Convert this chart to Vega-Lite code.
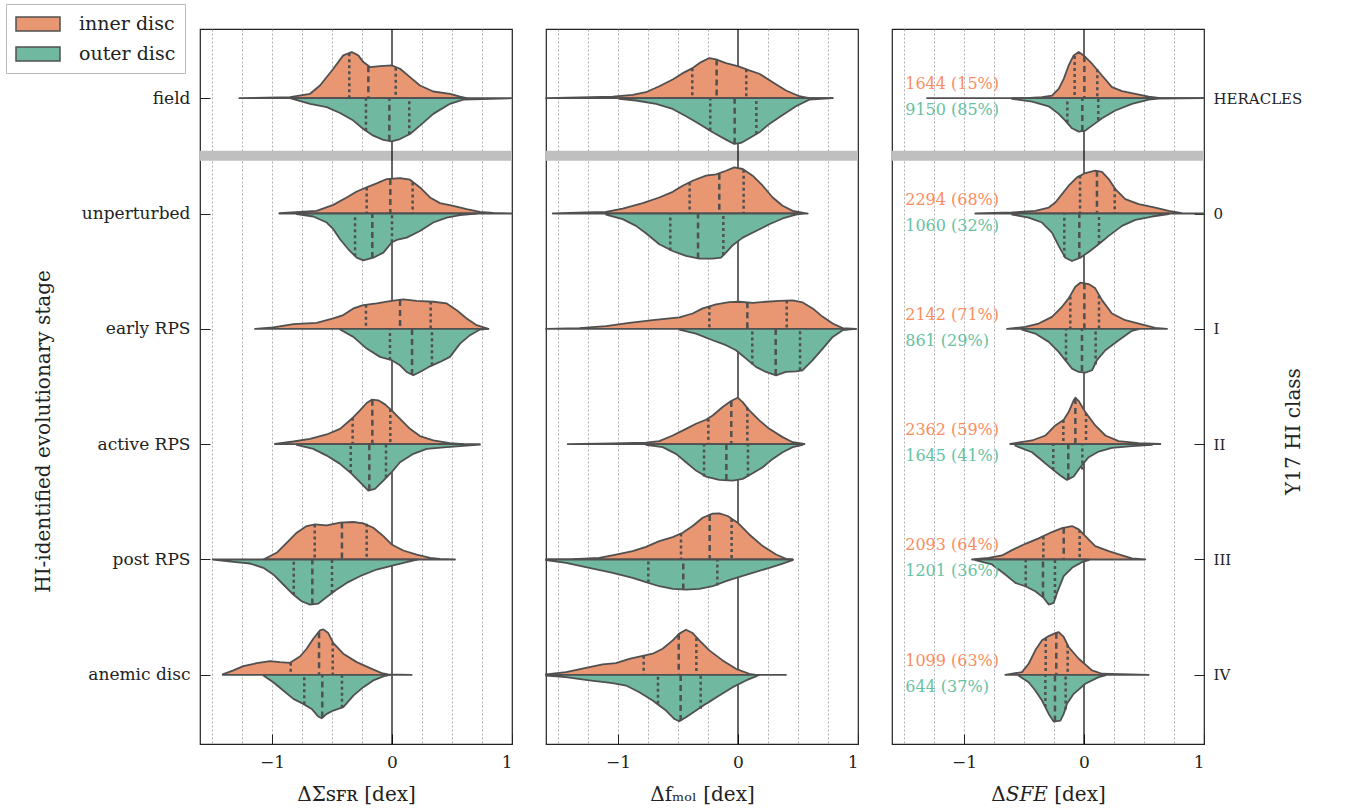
{
"$schema":"https://vega.github.io/schema/vega-lite/v6.json",
"background":"white",
"padding":{"left":5,"top":3,"right":0,"bottom":0},
"config":{"font":"DejaVu Serif","view":{"stroke":"#222","strokeWidth":1.2},
"axis":{"labelFont":"DejaVu Serif","titleFont":"DejaVu Serif","labelColor":"#222","titleColor":"#222","titleFontWeight":"normal","tickColor":"#222","tickWidth":1,"domain":false,"grid":false,"labelFontSize":17,"titleFontSize":20},
"concat":{"spacing":22}},
"datasets":{
"v":[
{"p":"a","h":"i","b":0,"x":-1.272,"y":0},{"p":"a","h":"i","b":0,"x":-0.85,"y":-0.009},{"p":"a","h":"i","b":0,"x":-0.683,"y":-0.038},{"p":"a","h":"i","b":0,"x":-0.6,"y":-0.11},{"p":"a","h":"i","b":0,"x":-0.489,"y":-0.255},{"p":"a","h":"i","b":0,"x":-0.406,"y":-0.371},{"p":"a","h":"i","b":0,"x":-0.336,"y":-0.4},{"p":"a","h":"i","b":0,"x":-0.281,"y":-0.371},{"p":"a","h":"i","b":0,"x":-0.239,"y":-0.313},{"p":"a","h":"i","b":0,"x":-0.183,"y":-0.27},{"p":"a","h":"i","b":0,"x":-0.1,"y":-0.278},{"p":"a","h":"i","b":0,"x":-0.003,"y":-0.284},{"p":"a","h":"i","b":0,"x":0.067,"y":-0.255},{"p":"a","h":"i","b":0,"x":0.15,"y":-0.183},{"p":"a","h":"i","b":0,"x":0.233,"y":-0.11},{"p":"a","h":"i","b":0,"x":0.344,"y":-0.058},{"p":"a","h":"i","b":0,"x":0.483,"y":-0.038},{"p":"a","h":"i","b":0,"x":0.567,"y":-0.014},{"p":"a","h":"i","b":0,"x":0.622,"y":0},
{"p":"a","h":"o","b":0,"x":-0.85,"y":0},{"p":"a","h":"o","b":0,"x":-0.683,"y":0.049},{"p":"a","h":"o","b":0,"x":-0.544,"y":0.078},{"p":"a","h":"o","b":0,"x":-0.433,"y":0.128},{"p":"a","h":"o","b":0,"x":-0.322,"y":0.194},{"p":"a","h":"o","b":0,"x":-0.239,"y":0.267},{"p":"a","h":"o","b":0,"x":-0.156,"y":0.325},{"p":"a","h":"o","b":0,"x":-0.072,"y":0.362},{"p":"a","h":"o","b":0,"x":-0.003,"y":0.374},{"p":"a","h":"o","b":0,"x":0.067,"y":0.354},{"p":"a","h":"o","b":0,"x":0.15,"y":0.31},{"p":"a","h":"o","b":0,"x":0.233,"y":0.238},{"p":"a","h":"o","b":0,"x":0.344,"y":0.136},{"p":"a","h":"o","b":0,"x":0.483,"y":0.049},{"p":"a","h":"o","b":0,"x":0.594,"y":0.012},{"p":"a","h":"o","b":0,"x":1.0,"y":0},
{"p":"a","h":"i","b":1,"x":-0.939,"y":0.997},{"p":"a","h":"i","b":1,"x":-0.767,"y":0.986},{"p":"a","h":"i","b":1,"x":-0.628,"y":0.977},{"p":"a","h":"i","b":1,"x":-0.489,"y":0.925},{"p":"a","h":"i","b":1,"x":-0.378,"y":0.861},{"p":"a","h":"i","b":1,"x":-0.294,"y":0.809},{"p":"a","h":"i","b":1,"x":-0.211,"y":0.774},{"p":"a","h":"i","b":1,"x":-0.128,"y":0.739},{"p":"a","h":"i","b":1,"x":-0.044,"y":0.701},{"p":"a","h":"i","b":1,"x":0.067,"y":0.693},{"p":"a","h":"i","b":1,"x":0.15,"y":0.707},{"p":"a","h":"i","b":1,"x":0.233,"y":0.774},{"p":"a","h":"i","b":1,"x":0.317,"y":0.861},{"p":"a","h":"i","b":1,"x":0.4,"y":0.91},{"p":"a","h":"i","b":1,"x":0.511,"y":0.933},{"p":"a","h":"i","b":1,"x":0.622,"y":0.962},{"p":"a","h":"i","b":1,"x":0.733,"y":0.986},{"p":"a","h":"i","b":1,"x":0.844,"y":0.994},{"p":"a","h":"i","b":1,"x":1.0,"y":1},
{"p":"a","h":"o","b":1,"x":-0.794,"y":1.006},{"p":"a","h":"o","b":1,"x":-0.656,"y":1.026},{"p":"a","h":"o","b":1,"x":-0.544,"y":1.078},{"p":"a","h":"o","b":1,"x":-0.489,"y":1.136},{"p":"a","h":"o","b":1,"x":-0.433,"y":1.223},{"p":"a","h":"o","b":1,"x":-0.364,"y":1.31},{"p":"a","h":"o","b":1,"x":-0.294,"y":1.383},{"p":"a","h":"o","b":1,"x":-0.239,"y":1.406},{"p":"a","h":"o","b":1,"x":-0.156,"y":1.383},{"p":"a","h":"o","b":1,"x":-0.072,"y":1.339},{"p":"a","h":"o","b":1,"x":-0.003,"y":1.252},{"p":"a","h":"o","b":1,"x":0.039,"y":1.229},{"p":"a","h":"o","b":1,"x":0.122,"y":1.209},{"p":"a","h":"o","b":1,"x":0.233,"y":1.151},{"p":"a","h":"o","b":1,"x":0.344,"y":1.078},{"p":"a","h":"o","b":1,"x":0.456,"y":1.035},{"p":"a","h":"o","b":1,"x":0.567,"y":1.014},{"p":"a","h":"o","b":1,"x":0.706,"y":1},
{"p":"a","h":"i","b":2,"x":-1.142,"y":2},{"p":"a","h":"i","b":2,"x":-0.989,"y":1.988},{"p":"a","h":"i","b":2,"x":-0.822,"y":1.959},{"p":"a","h":"i","b":2,"x":-0.628,"y":1.948},{"p":"a","h":"i","b":2,"x":-0.489,"y":1.91},{"p":"a","h":"i","b":2,"x":-0.406,"y":1.881},{"p":"a","h":"i","b":2,"x":-0.322,"y":1.823},{"p":"a","h":"i","b":2,"x":-0.239,"y":1.794},{"p":"a","h":"i","b":2,"x":-0.128,"y":1.78},{"p":"a","h":"i","b":2,"x":-0.003,"y":1.757},{"p":"a","h":"i","b":2,"x":0.094,"y":1.745},{"p":"a","h":"i","b":2,"x":0.206,"y":1.757},{"p":"a","h":"i","b":2,"x":0.344,"y":1.765},{"p":"a","h":"i","b":2,"x":0.456,"y":1.78},{"p":"a","h":"i","b":2,"x":0.539,"y":1.838},{"p":"a","h":"i","b":2,"x":0.622,"y":1.91},{"p":"a","h":"i","b":2,"x":0.706,"y":1.968},{"p":"a","h":"i","b":2,"x":0.803,"y":2},
{"p":"a","h":"o","b":2,"x":-0.433,"y":2.006},{"p":"a","h":"o","b":2,"x":-0.322,"y":2.07},{"p":"a","h":"o","b":2,"x":-0.211,"y":2.171},{"p":"a","h":"o","b":2,"x":-0.1,"y":2.243},{"p":"a","h":"o","b":2,"x":-0.003,"y":2.272},{"p":"a","h":"o","b":2,"x":0.067,"y":2.316},{"p":"a","h":"o","b":2,"x":0.122,"y":2.374},{"p":"a","h":"o","b":2,"x":0.178,"y":2.403},{"p":"a","h":"o","b":2,"x":0.233,"y":2.374},{"p":"a","h":"o","b":2,"x":0.317,"y":2.325},{"p":"a","h":"o","b":2,"x":0.4,"y":2.287},{"p":"a","h":"o","b":2,"x":0.483,"y":2.243},{"p":"a","h":"o","b":2,"x":0.567,"y":2.128},{"p":"a","h":"o","b":2,"x":0.65,"y":2.055},{"p":"a","h":"o","b":2,"x":0.733,"y":2.006},{"p":"a","h":"o","b":2,"x":0.803,"y":2},
{"p":"a","h":"i","b":3,"x":-0.975,"y":2.997},{"p":"a","h":"i","b":3,"x":-0.822,"y":2.977},{"p":"a","h":"i","b":3,"x":-0.683,"y":2.954},{"p":"a","h":"i","b":3,"x":-0.544,"y":2.916},{"p":"a","h":"i","b":3,"x":-0.433,"y":2.867},{"p":"a","h":"i","b":3,"x":-0.336,"y":2.78},{"p":"a","h":"i","b":3,"x":-0.267,"y":2.707},{"p":"a","h":"i","b":3,"x":-0.211,"y":2.643},{"p":"a","h":"i","b":3,"x":-0.169,"y":2.614},{"p":"a","h":"i","b":3,"x":-0.114,"y":2.62},{"p":"a","h":"i","b":3,"x":-0.058,"y":2.655},{"p":"a","h":"i","b":3,"x":-0.003,"y":2.707},{"p":"a","h":"i","b":3,"x":0.067,"y":2.78},{"p":"a","h":"i","b":3,"x":0.15,"y":2.867},{"p":"a","h":"i","b":3,"x":0.233,"y":2.93},{"p":"a","h":"i","b":3,"x":0.344,"y":2.968},{"p":"a","h":"i","b":3,"x":0.483,"y":2.991},{"p":"a","h":"i","b":3,"x":0.594,"y":3},
{"p":"a","h":"o","b":3,"x":-0.794,"y":3.006},{"p":"a","h":"o","b":3,"x":-0.656,"y":3.041},{"p":"a","h":"o","b":3,"x":-0.544,"y":3.099},{"p":"a","h":"o","b":3,"x":-0.433,"y":3.171},{"p":"a","h":"o","b":3,"x":-0.35,"y":3.243},{"p":"a","h":"o","b":3,"x":-0.267,"y":3.33},{"p":"a","h":"o","b":3,"x":-0.197,"y":3.403},{"p":"a","h":"o","b":3,"x":-0.142,"y":3.388},{"p":"a","h":"o","b":3,"x":-0.072,"y":3.316},{"p":"a","h":"o","b":3,"x":-0.003,"y":3.243},{"p":"a","h":"o","b":3,"x":0.067,"y":3.157},{"p":"a","h":"o","b":3,"x":0.178,"y":3.084},{"p":"a","h":"o","b":3,"x":0.289,"y":3.041},{"p":"a","h":"o","b":3,"x":0.456,"y":3.026},{"p":"a","h":"o","b":3,"x":0.594,"y":3.014},{"p":"a","h":"o","b":3,"x":0.733,"y":3.003},
{"p":"a","h":"i","b":4,"x":-1.072,"y":4},{"p":"a","h":"i","b":4,"x":-0.961,"y":3.942},{"p":"a","h":"i","b":4,"x":-0.878,"y":3.855},{"p":"a","h":"i","b":4,"x":-0.794,"y":3.768},{"p":"a","h":"i","b":4,"x":-0.711,"y":3.71},{"p":"a","h":"i","b":4,"x":-0.642,"y":3.696},{"p":"a","h":"i","b":4,"x":-0.544,"y":3.704},{"p":"a","h":"i","b":4,"x":-0.433,"y":3.681},{"p":"a","h":"i","b":4,"x":-0.322,"y":3.675},{"p":"a","h":"i","b":4,"x":-0.239,"y":3.687},{"p":"a","h":"i","b":4,"x":-0.156,"y":3.725},{"p":"a","h":"i","b":4,"x":-0.072,"y":3.797},{"p":"a","h":"i","b":4,"x":-0.003,"y":3.87},{"p":"a","h":"i","b":4,"x":0.094,"y":3.922},{"p":"a","h":"i","b":4,"x":0.206,"y":3.957},{"p":"a","h":"i","b":4,"x":0.317,"y":3.986},{"p":"a","h":"i","b":4,"x":0.4,"y":3.994},{"p":"a","h":"i","b":4,"x":0.525,"y":4},
{"p":"a","h":"o","b":4,"x":-1.494,"y":4},{"p":"a","h":"o","b":4,"x":-1.322,"y":4.02},{"p":"a","h":"o","b":4,"x":-1.183,"y":4.035},{"p":"a","h":"o","b":4,"x":-1.072,"y":4.072},{"p":"a","h":"o","b":4,"x":-0.989,"y":4.13},{"p":"a","h":"o","b":4,"x":-0.906,"y":4.217},{"p":"a","h":"o","b":4,"x":-0.822,"y":4.304},{"p":"a","h":"o","b":4,"x":-0.753,"y":4.362},{"p":"a","h":"o","b":4,"x":-0.683,"y":4.391},{"p":"a","h":"o","b":4,"x":-0.614,"y":4.383},{"p":"a","h":"o","b":4,"x":-0.544,"y":4.325},{"p":"a","h":"o","b":4,"x":-0.461,"y":4.261},{"p":"a","h":"o","b":4,"x":-0.378,"y":4.203},{"p":"a","h":"o","b":4,"x":-0.267,"y":4.145},{"p":"a","h":"o","b":4,"x":-0.128,"y":4.087},{"p":"a","h":"o","b":4,"x":0.011,"y":4.052},{"p":"a","h":"o","b":4,"x":0.122,"y":4.023},{"p":"a","h":"o","b":4,"x":0.219,"y":4},
{"p":"a","h":"i","b":5,"x":-1.411,"y":4.997},{"p":"a","h":"i","b":5,"x":-1.322,"y":4.962},{"p":"a","h":"i","b":5,"x":-1.239,"y":4.925},{"p":"a","h":"i","b":5,"x":-1.128,"y":4.899},{"p":"a","h":"i","b":5,"x":-1.017,"y":4.881},{"p":"a","h":"i","b":5,"x":-0.933,"y":4.89},{"p":"a","h":"i","b":5,"x":-0.85,"y":4.896},{"p":"a","h":"i","b":5,"x":-0.767,"y":4.841},{"p":"a","h":"i","b":5,"x":-0.711,"y":4.774},{"p":"a","h":"i","b":5,"x":-0.656,"y":4.687},{"p":"a","h":"i","b":5,"x":-0.6,"y":4.614},{"p":"a","h":"i","b":5,"x":-0.572,"y":4.606},{"p":"a","h":"i","b":5,"x":-0.531,"y":4.638},{"p":"a","h":"i","b":5,"x":-0.489,"y":4.725},{"p":"a","h":"i","b":5,"x":-0.406,"y":4.817},{"p":"a","h":"i","b":5,"x":-0.294,"y":4.89},{"p":"a","h":"i","b":5,"x":-0.183,"y":4.942},{"p":"a","h":"i","b":5,"x":-0.086,"y":4.986},{"p":"a","h":"i","b":5,"x":-0.031,"y":4.997},{"p":"a","h":"i","b":5,"x":0.164,"y":5},
{"p":"a","h":"o","b":5,"x":-1.072,"y":5.006},{"p":"a","h":"o","b":5,"x":-0.989,"y":5.064},{"p":"a","h":"o","b":5,"x":-0.906,"y":5.136},{"p":"a","h":"o","b":5,"x":-0.822,"y":5.209},{"p":"a","h":"o","b":5,"x":-0.739,"y":5.252},{"p":"a","h":"o","b":5,"x":-0.669,"y":5.296},{"p":"a","h":"o","b":5,"x":-0.614,"y":5.362},{"p":"a","h":"o","b":5,"x":-0.586,"y":5.377},{"p":"a","h":"o","b":5,"x":-0.544,"y":5.339},{"p":"a","h":"o","b":5,"x":-0.489,"y":5.31},{"p":"a","h":"o","b":5,"x":-0.406,"y":5.281},{"p":"a","h":"o","b":5,"x":-0.322,"y":5.18},{"p":"a","h":"o","b":5,"x":-0.239,"y":5.107},{"p":"a","h":"o","b":5,"x":-0.156,"y":5.049},{"p":"a","h":"o","b":5,"x":-0.072,"y":5.014},{"p":"a","h":"o","b":5,"x":-0.017,"y":5},
{"p":"b","h":"i","b":0,"x":-1.6,"y":0},{"p":"b","h":"i","b":0,"x":-1.322,"y":-0.006},{"p":"b","h":"i","b":0,"x":-1.044,"y":-0.014},{"p":"b","h":"i","b":0,"x":-0.878,"y":-0.029},{"p":"b","h":"i","b":0,"x":-0.767,"y":-0.052},{"p":"b","h":"i","b":0,"x":-0.656,"y":-0.104},{"p":"b","h":"i","b":0,"x":-0.544,"y":-0.162},{"p":"b","h":"i","b":0,"x":-0.461,"y":-0.217},{"p":"b","h":"i","b":0,"x":-0.378,"y":-0.261},{"p":"b","h":"i","b":0,"x":-0.308,"y":-0.313},{"p":"b","h":"i","b":0,"x":-0.239,"y":-0.348},{"p":"b","h":"i","b":0,"x":-0.183,"y":-0.336},{"p":"b","h":"i","b":0,"x":-0.1,"y":-0.304},{"p":"b","h":"i","b":0,"x":-0.003,"y":-0.278},{"p":"b","h":"i","b":0,"x":0.094,"y":-0.241},{"p":"b","h":"i","b":0,"x":0.178,"y":-0.212},{"p":"b","h":"i","b":0,"x":0.289,"y":-0.139},{"p":"b","h":"i","b":0,"x":0.4,"y":-0.067},{"p":"b","h":"i","b":0,"x":0.511,"y":-0.017},{"p":"b","h":"i","b":0,"x":0.594,"y":0},{"p":"b","h":"i","b":0,"x":0.789,"y":0},
{"p":"b","h":"o","b":0,"x":-0.989,"y":0.006},{"p":"b","h":"o","b":0,"x":-0.85,"y":0.02},{"p":"b","h":"o","b":0,"x":-0.683,"y":0.049},{"p":"b","h":"o","b":0,"x":-0.544,"y":0.093},{"p":"b","h":"o","b":0,"x":-0.433,"y":0.157},{"p":"b","h":"o","b":0,"x":-0.322,"y":0.223},{"p":"b","h":"o","b":0,"x":-0.211,"y":0.296},{"p":"b","h":"o","b":0,"x":-0.1,"y":0.359},{"p":"b","h":"o","b":0,"x":-0.031,"y":0.397},{"p":"b","h":"o","b":0,"x":0.025,"y":0.388},{"p":"b","h":"o","b":0,"x":0.094,"y":0.348},{"p":"b","h":"o","b":0,"x":0.178,"y":0.296},{"p":"b","h":"o","b":0,"x":0.261,"y":0.223},{"p":"b","h":"o","b":0,"x":0.372,"y":0.145},{"p":"b","h":"o","b":0,"x":0.483,"y":0.07},{"p":"b","h":"o","b":0,"x":0.594,"y":0.012},{"p":"b","h":"o","b":0,"x":0.789,"y":0},
{"p":"b","h":"i","b":1,"x":-1.544,"y":1},{"p":"b","h":"i","b":1,"x":-1.267,"y":0.991},{"p":"b","h":"i","b":1,"x":-1.1,"y":0.986},{"p":"b","h":"i","b":1,"x":-0.961,"y":0.957},{"p":"b","h":"i","b":1,"x":-0.794,"y":0.91},{"p":"b","h":"i","b":1,"x":-0.656,"y":0.861},{"p":"b","h":"i","b":1,"x":-0.544,"y":0.812},{"p":"b","h":"i","b":1,"x":-0.461,"y":0.759},{"p":"b","h":"i","b":1,"x":-0.378,"y":0.716},{"p":"b","h":"i","b":1,"x":-0.267,"y":0.672},{"p":"b","h":"i","b":1,"x":-0.183,"y":0.661},{"p":"b","h":"i","b":1,"x":-0.1,"y":0.629},{"p":"b","h":"i","b":1,"x":-0.031,"y":0.6},{"p":"b","h":"i","b":1,"x":0.039,"y":0.614},{"p":"b","h":"i","b":1,"x":0.122,"y":0.672},{"p":"b","h":"i","b":1,"x":0.206,"y":0.759},{"p":"b","h":"i","b":1,"x":0.289,"y":0.861},{"p":"b","h":"i","b":1,"x":0.372,"y":0.933},{"p":"b","h":"i","b":1,"x":0.456,"y":0.977},{"p":"b","h":"i","b":1,"x":0.581,"y":1},
{"p":"b","h":"o","b":1,"x":-1.1,"y":1.009},{"p":"b","h":"o","b":1,"x":-0.961,"y":1.049},{"p":"b","h":"o","b":1,"x":-0.85,"y":1.107},{"p":"b","h":"o","b":1,"x":-0.767,"y":1.171},{"p":"b","h":"o","b":1,"x":-0.656,"y":1.267},{"p":"b","h":"o","b":1,"x":-0.544,"y":1.325},{"p":"b","h":"o","b":1,"x":-0.433,"y":1.368},{"p":"b","h":"o","b":1,"x":-0.322,"y":1.391},{"p":"b","h":"o","b":1,"x":-0.211,"y":1.391},{"p":"b","h":"o","b":1,"x":-0.142,"y":1.383},{"p":"b","h":"o","b":1,"x":-0.1,"y":1.339},{"p":"b","h":"o","b":1,"x":-0.044,"y":1.275},{"p":"b","h":"o","b":1,"x":0.039,"y":1.209},{"p":"b","h":"o","b":1,"x":0.15,"y":1.151},{"p":"b","h":"o","b":1,"x":0.261,"y":1.093},{"p":"b","h":"o","b":1,"x":0.372,"y":1.043},{"p":"b","h":"o","b":1,"x":0.483,"y":1.009},{"p":"b","h":"o","b":1,"x":0.539,"y":1},
{"p":"b","h":"i","b":2,"x":-1.6,"y":2},{"p":"b","h":"i","b":2,"x":-1.322,"y":1.994},{"p":"b","h":"i","b":2,"x":-1.1,"y":1.977},{"p":"b","h":"i","b":2,"x":-0.906,"y":1.948},{"p":"b","h":"i","b":2,"x":-0.711,"y":1.925},{"p":"b","h":"i","b":2,"x":-0.489,"y":1.901},{"p":"b","h":"i","b":2,"x":-0.378,"y":1.867},{"p":"b","h":"i","b":2,"x":-0.294,"y":1.823},{"p":"b","h":"i","b":2,"x":-0.183,"y":1.788},{"p":"b","h":"i","b":2,"x":-0.072,"y":1.768},{"p":"b","h":"i","b":2,"x":0.011,"y":1.765},{"p":"b","h":"i","b":2,"x":0.122,"y":1.774},{"p":"b","h":"i","b":2,"x":0.233,"y":1.765},{"p":"b","h":"i","b":2,"x":0.344,"y":1.757},{"p":"b","h":"i","b":2,"x":0.456,"y":1.754},{"p":"b","h":"i","b":2,"x":0.539,"y":1.771},{"p":"b","h":"i","b":2,"x":0.622,"y":1.823},{"p":"b","h":"i","b":2,"x":0.706,"y":1.896},{"p":"b","h":"i","b":2,"x":0.789,"y":1.954},{"p":"b","h":"i","b":2,"x":0.872,"y":1.994},{"p":"b","h":"i","b":2,"x":0.983,"y":2},
{"p":"b","h":"o","b":2,"x":-0.489,"y":2.006},{"p":"b","h":"o","b":2,"x":-0.35,"y":2.041},{"p":"b","h":"o","b":2,"x":-0.211,"y":2.099},{"p":"b","h":"o","b":2,"x":-0.1,"y":2.142},{"p":"b","h":"o","b":2,"x":-0.017,"y":2.186},{"p":"b","h":"o","b":2,"x":0.067,"y":2.258},{"p":"b","h":"o","b":2,"x":0.15,"y":2.33},{"p":"b","h":"o","b":2,"x":0.233,"y":2.374},{"p":"b","h":"o","b":2,"x":0.317,"y":2.403},{"p":"b","h":"o","b":2,"x":0.4,"y":2.374},{"p":"b","h":"o","b":2,"x":0.483,"y":2.368},{"p":"b","h":"o","b":2,"x":0.539,"y":2.359},{"p":"b","h":"o","b":2,"x":0.622,"y":2.272},{"p":"b","h":"o","b":2,"x":0.706,"y":2.171},{"p":"b","h":"o","b":2,"x":0.789,"y":2.07},{"p":"b","h":"o","b":2,"x":0.872,"y":2.012},{"p":"b","h":"o","b":2,"x":0.983,"y":2},
{"p":"b","h":"i","b":3,"x":-1.419,"y":3},{"p":"b","h":"i","b":3,"x":-1.044,"y":2.994},{"p":"b","h":"i","b":3,"x":-0.767,"y":2.986},{"p":"b","h":"i","b":3,"x":-0.656,"y":2.974},{"p":"b","h":"i","b":3,"x":-0.544,"y":2.925},{"p":"b","h":"i","b":3,"x":-0.433,"y":2.867},{"p":"b","h":"i","b":3,"x":-0.35,"y":2.823},{"p":"b","h":"i","b":3,"x":-0.267,"y":2.788},{"p":"b","h":"i","b":3,"x":-0.211,"y":2.751},{"p":"b","h":"i","b":3,"x":-0.128,"y":2.678},{"p":"b","h":"i","b":3,"x":-0.058,"y":2.626},{"p":"b","h":"i","b":3,"x":-0.003,"y":2.597},{"p":"b","h":"i","b":3,"x":0.039,"y":2.635},{"p":"b","h":"i","b":3,"x":0.094,"y":2.707},{"p":"b","h":"i","b":3,"x":0.178,"y":2.794},{"p":"b","h":"i","b":3,"x":0.261,"y":2.867},{"p":"b","h":"i","b":3,"x":0.372,"y":2.939},{"p":"b","h":"i","b":3,"x":0.456,"y":2.983},{"p":"b","h":"i","b":3,"x":0.553,"y":2.997},
{"p":"b","h":"o","b":3,"x":-0.767,"y":3.006},{"p":"b","h":"o","b":3,"x":-0.628,"y":3.026},{"p":"b","h":"o","b":3,"x":-0.517,"y":3.084},{"p":"b","h":"o","b":3,"x":-0.433,"y":3.157},{"p":"b","h":"o","b":3,"x":-0.35,"y":3.229},{"p":"b","h":"o","b":3,"x":-0.267,"y":3.281},{"p":"b","h":"o","b":3,"x":-0.156,"y":3.31},{"p":"b","h":"o","b":3,"x":-0.044,"y":3.316},{"p":"b","h":"o","b":3,"x":0.039,"y":3.301},{"p":"b","h":"o","b":3,"x":0.122,"y":3.252},{"p":"b","h":"o","b":3,"x":0.206,"y":3.2},{"p":"b","h":"o","b":3,"x":0.289,"y":3.128},{"p":"b","h":"o","b":3,"x":0.372,"y":3.07},{"p":"b","h":"o","b":3,"x":0.456,"y":3.026},{"p":"b","h":"o","b":3,"x":0.539,"y":3.006},
{"p":"b","h":"i","b":4,"x":-1.6,"y":4},{"p":"b","h":"i","b":4,"x":-1.378,"y":3.997},{"p":"b","h":"i","b":4,"x":-1.156,"y":3.986},{"p":"b","h":"i","b":4,"x":-1.017,"y":3.957},{"p":"b","h":"i","b":4,"x":-0.878,"y":3.928},{"p":"b","h":"i","b":4,"x":-0.767,"y":3.89},{"p":"b","h":"i","b":4,"x":-0.656,"y":3.841},{"p":"b","h":"i","b":4,"x":-0.544,"y":3.806},{"p":"b","h":"i","b":4,"x":-0.461,"y":3.768},{"p":"b","h":"i","b":4,"x":-0.378,"y":3.71},{"p":"b","h":"i","b":4,"x":-0.294,"y":3.638},{"p":"b","h":"i","b":4,"x":-0.211,"y":3.603},{"p":"b","h":"i","b":4,"x":-0.156,"y":3.6},{"p":"b","h":"i","b":4,"x":-0.086,"y":3.623},{"p":"b","h":"i","b":4,"x":-0.003,"y":3.681},{"p":"b","h":"i","b":4,"x":0.094,"y":3.783},{"p":"b","h":"i","b":4,"x":0.206,"y":3.884},{"p":"b","h":"i","b":4,"x":0.317,"y":3.957},{"p":"b","h":"i","b":4,"x":0.4,"y":3.994},{"p":"b","h":"i","b":4,"x":0.456,"y":4},
{"p":"b","h":"o","b":4,"x":-1.6,"y":4.006},{"p":"b","h":"o","b":4,"x":-1.433,"y":4.029},{"p":"b","h":"o","b":4,"x":-1.239,"y":4.072},{"p":"b","h":"o","b":4,"x":-1.044,"y":4.116},{"p":"b","h":"o","b":4,"x":-0.878,"y":4.159},{"p":"b","h":"o","b":4,"x":-0.767,"y":4.197},{"p":"b","h":"o","b":4,"x":-0.656,"y":4.232},{"p":"b","h":"o","b":4,"x":-0.544,"y":4.255},{"p":"b","h":"o","b":4,"x":-0.433,"y":4.261},{"p":"b","h":"o","b":4,"x":-0.322,"y":4.255},{"p":"b","h":"o","b":4,"x":-0.211,"y":4.232},{"p":"b","h":"o","b":4,"x":-0.1,"y":4.188},{"p":"b","h":"o","b":4,"x":0.011,"y":4.151},{"p":"b","h":"o","b":4,"x":0.122,"y":4.116},{"p":"b","h":"o","b":4,"x":0.261,"y":4.072},{"p":"b","h":"o","b":4,"x":0.372,"y":4.035},{"p":"b","h":"o","b":4,"x":0.456,"y":4.006},
{"p":"b","h":"i","b":5,"x":-1.6,"y":4.997},{"p":"b","h":"i","b":5,"x":-1.433,"y":4.977},{"p":"b","h":"i","b":5,"x":-1.267,"y":4.939},{"p":"b","h":"i","b":5,"x":-1.128,"y":4.91},{"p":"b","h":"i","b":5,"x":-1.017,"y":4.899},{"p":"b","h":"i","b":5,"x":-0.906,"y":4.861},{"p":"b","h":"i","b":5,"x":-0.794,"y":4.835},{"p":"b","h":"i","b":5,"x":-0.711,"y":4.817},{"p":"b","h":"i","b":5,"x":-0.628,"y":4.774},{"p":"b","h":"i","b":5,"x":-0.544,"y":4.701},{"p":"b","h":"i","b":5,"x":-0.489,"y":4.643},{"p":"b","h":"i","b":5,"x":-0.433,"y":4.609},{"p":"b","h":"i","b":5,"x":-0.378,"y":4.638},{"p":"b","h":"i","b":5,"x":-0.322,"y":4.701},{"p":"b","h":"i","b":5,"x":-0.239,"y":4.788},{"p":"b","h":"i","b":5,"x":-0.128,"y":4.875},{"p":"b","h":"i","b":5,"x":-0.017,"y":4.948},{"p":"b","h":"i","b":5,"x":0.094,"y":4.991},{"p":"b","h":"i","b":5,"x":0.15,"y":5},{"p":"b","h":"i","b":5,"x":0.4,"y":5},
{"p":"b","h":"o","b":5,"x":-1.6,"y":5.006},{"p":"b","h":"o","b":5,"x":-1.433,"y":5.02},{"p":"b","h":"o","b":5,"x":-1.239,"y":5.049},{"p":"b","h":"o","b":5,"x":-1.044,"y":5.072},{"p":"b","h":"o","b":5,"x":-0.933,"y":5.093},{"p":"b","h":"o","b":5,"x":-0.822,"y":5.151},{"p":"b","h":"o","b":5,"x":-0.711,"y":5.223},{"p":"b","h":"o","b":5,"x":-0.6,"y":5.31},{"p":"b","h":"o","b":5,"x":-0.531,"y":5.383},{"p":"b","h":"o","b":5,"x":-0.489,"y":5.403},{"p":"b","h":"o","b":5,"x":-0.433,"y":5.368},{"p":"b","h":"o","b":5,"x":-0.35,"y":5.31},{"p":"b","h":"o","b":5,"x":-0.267,"y":5.252},{"p":"b","h":"o","b":5,"x":-0.156,"y":5.18},{"p":"b","h":"o","b":5,"x":-0.044,"y":5.107},{"p":"b","h":"o","b":5,"x":0.067,"y":5.049},{"p":"b","h":"o","b":5,"x":0.15,"y":5.014},{"p":"b","h":"o","b":5,"x":0.178,"y":5},
{"p":"c","h":"i","b":0,"x":-1.308,"y":0},{"p":"c","h":"i","b":0,"x":-0.489,"y":0},{"p":"c","h":"i","b":0,"x":-0.35,"y":-0.009},{"p":"c","h":"i","b":0,"x":-0.267,"y":-0.023},{"p":"c","h":"i","b":0,"x":-0.211,"y":-0.081},{"p":"c","h":"i","b":0,"x":-0.169,"y":-0.168},{"p":"c","h":"i","b":0,"x":-0.128,"y":-0.284},{"p":"c","h":"i","b":0,"x":-0.086,"y":-0.371},{"p":"c","h":"i","b":0,"x":-0.044,"y":-0.4},{"p":"c","h":"i","b":0,"x":-0.003,"y":-0.371},{"p":"c","h":"i","b":0,"x":0.067,"y":-0.299},{"p":"c","h":"i","b":0,"x":0.15,"y":-0.197},{"p":"c","h":"i","b":0,"x":0.233,"y":-0.096},{"p":"c","h":"i","b":0,"x":0.317,"y":-0.061},{"p":"c","h":"i","b":0,"x":0.428,"y":-0.038},{"p":"c","h":"i","b":0,"x":0.539,"y":-0.014},{"p":"c","h":"i","b":0,"x":0.622,"y":-0.003},{"p":"c","h":"i","b":0,"x":1.0,"y":0},
{"p":"c","h":"o","b":0,"x":-0.6,"y":0.006},{"p":"c","h":"o","b":0,"x":-0.433,"y":0.029},{"p":"c","h":"o","b":0,"x":-0.294,"y":0.07},{"p":"c","h":"o","b":0,"x":-0.211,"y":0.136},{"p":"c","h":"o","b":0,"x":-0.156,"y":0.194},{"p":"c","h":"o","b":0,"x":-0.1,"y":0.261},{"p":"c","h":"o","b":0,"x":-0.044,"y":0.29},{"p":"c","h":"o","b":0,"x":0.011,"y":0.281},{"p":"c","h":"o","b":0,"x":0.067,"y":0.238},{"p":"c","h":"o","b":0,"x":0.15,"y":0.174},{"p":"c","h":"o","b":0,"x":0.261,"y":0.107},{"p":"c","h":"o","b":0,"x":0.4,"y":0.049},{"p":"c","h":"o","b":0,"x":0.539,"y":0.012},{"p":"c","h":"o","b":0,"x":0.622,"y":0.003},{"p":"c","h":"o","b":0,"x":1.0,"y":0},
{"p":"c","h":"i","b":1,"x":-0.906,"y":1},{"p":"c","h":"i","b":1,"x":-0.6,"y":0.991},{"p":"c","h":"i","b":1,"x":-0.406,"y":0.977},{"p":"c","h":"i","b":1,"x":-0.294,"y":0.948},{"p":"c","h":"i","b":1,"x":-0.239,"y":0.904},{"p":"c","h":"i","b":1,"x":-0.183,"y":0.832},{"p":"c","h":"i","b":1,"x":-0.128,"y":0.759},{"p":"c","h":"i","b":1,"x":-0.058,"y":0.687},{"p":"c","h":"i","b":1,"x":0.011,"y":0.649},{"p":"c","h":"i","b":1,"x":0.094,"y":0.629},{"p":"c","h":"i","b":1,"x":0.15,"y":0.638},{"p":"c","h":"i","b":1,"x":0.206,"y":0.701},{"p":"c","h":"i","b":1,"x":0.261,"y":0.788},{"p":"c","h":"i","b":1,"x":0.344,"y":0.875},{"p":"c","h":"i","b":1,"x":0.456,"y":0.919},{"p":"c","h":"i","b":1,"x":0.594,"y":0.948},{"p":"c","h":"i","b":1,"x":0.706,"y":0.977},{"p":"c","h":"i","b":1,"x":0.817,"y":0.997},{"p":"c","h":"i","b":1,"x":1.0,"y":1},
{"p":"c","h":"o","b":1,"x":-0.6,"y":1.009},{"p":"c","h":"o","b":1,"x":-0.461,"y":1.035},{"p":"c","h":"o","b":1,"x":-0.35,"y":1.078},{"p":"c","h":"o","b":1,"x":-0.267,"y":1.165},{"p":"c","h":"o","b":1,"x":-0.211,"y":1.281},{"p":"c","h":"o","b":1,"x":-0.156,"y":1.383},{"p":"c","h":"o","b":1,"x":-0.1,"y":1.412},{"p":"c","h":"o","b":1,"x":-0.031,"y":1.383},{"p":"c","h":"o","b":1,"x":0.039,"y":1.333},{"p":"c","h":"o","b":1,"x":0.122,"y":1.267},{"p":"c","h":"o","b":1,"x":0.206,"y":1.194},{"p":"c","h":"o","b":1,"x":0.317,"y":1.107},{"p":"c","h":"o","b":1,"x":0.428,"y":1.055},{"p":"c","h":"o","b":1,"x":0.567,"y":1.026},{"p":"c","h":"o","b":1,"x":0.706,"y":1.006},
{"p":"c","h":"i","b":2,"x":-0.642,"y":2},{"p":"c","h":"i","b":2,"x":-0.489,"y":1.983},{"p":"c","h":"i","b":2,"x":-0.378,"y":1.954},{"p":"c","h":"i","b":2,"x":-0.267,"y":1.896},{"p":"c","h":"i","b":2,"x":-0.183,"y":1.809},{"p":"c","h":"i","b":2,"x":-0.128,"y":1.736},{"p":"c","h":"i","b":2,"x":-0.072,"y":1.635},{"p":"c","h":"i","b":2,"x":-0.031,"y":1.6},{"p":"c","h":"i","b":2,"x":0.039,"y":1.612},{"p":"c","h":"i","b":2,"x":0.094,"y":1.649},{"p":"c","h":"i","b":2,"x":0.15,"y":1.751},{"p":"c","h":"i","b":2,"x":0.233,"y":1.867},{"p":"c","h":"i","b":2,"x":0.344,"y":1.925},{"p":"c","h":"i","b":2,"x":0.456,"y":1.954},{"p":"c","h":"i","b":2,"x":0.594,"y":1.991},{"p":"c","h":"i","b":2,"x":0.692,"y":2},
{"p":"c","h":"o","b":2,"x":-0.517,"y":2.006},{"p":"c","h":"o","b":2,"x":-0.406,"y":2.041},{"p":"c","h":"o","b":2,"x":-0.294,"y":2.113},{"p":"c","h":"o","b":2,"x":-0.211,"y":2.2},{"p":"c","h":"o","b":2,"x":-0.156,"y":2.272},{"p":"c","h":"o","b":2,"x":-0.1,"y":2.345},{"p":"c","h":"o","b":2,"x":-0.044,"y":2.374},{"p":"c","h":"o","b":2,"x":0.011,"y":2.38},{"p":"c","h":"o","b":2,"x":0.067,"y":2.359},{"p":"c","h":"o","b":2,"x":0.108,"y":2.272},{"p":"c","h":"o","b":2,"x":0.178,"y":2.186},{"p":"c","h":"o","b":2,"x":0.289,"y":2.099},{"p":"c","h":"o","b":2,"x":0.4,"y":2.017},{"p":"c","h":"o","b":2,"x":0.456,"y":2.003},
{"p":"c","h":"i","b":3,"x":-0.614,"y":2.997},{"p":"c","h":"i","b":3,"x":-0.433,"y":2.968},{"p":"c","h":"i","b":3,"x":-0.322,"y":2.925},{"p":"c","h":"i","b":3,"x":-0.239,"y":2.838},{"p":"c","h":"i","b":3,"x":-0.169,"y":2.788},{"p":"c","h":"i","b":3,"x":-0.128,"y":2.722},{"p":"c","h":"i","b":3,"x":-0.086,"y":2.62},{"p":"c","h":"i","b":3,"x":-0.072,"y":2.597},{"p":"c","h":"i","b":3,"x":-0.044,"y":2.626},{"p":"c","h":"i","b":3,"x":0.011,"y":2.722},{"p":"c","h":"i","b":3,"x":0.094,"y":2.838},{"p":"c","h":"i","b":3,"x":0.178,"y":2.925},{"p":"c","h":"i","b":3,"x":0.289,"y":2.974},{"p":"c","h":"i","b":3,"x":0.456,"y":2.991},{"p":"c","h":"i","b":3,"x":0.636,"y":2.997},
{"p":"c","h":"o","b":3,"x":-0.572,"y":3.014},{"p":"c","h":"o","b":3,"x":-0.433,"y":3.07},{"p":"c","h":"o","b":3,"x":-0.35,"y":3.142},{"p":"c","h":"o","b":3,"x":-0.267,"y":3.214},{"p":"c","h":"o","b":3,"x":-0.197,"y":3.272},{"p":"c","h":"o","b":3,"x":-0.142,"y":3.31},{"p":"c","h":"o","b":3,"x":-0.086,"y":3.281},{"p":"c","h":"o","b":3,"x":-0.031,"y":3.2},{"p":"c","h":"o","b":3,"x":0.039,"y":3.113},{"p":"c","h":"o","b":3,"x":0.122,"y":3.064},{"p":"c","h":"o","b":3,"x":0.233,"y":3.032},{"p":"c","h":"o","b":3,"x":0.4,"y":3.017},{"p":"c","h":"o","b":3,"x":0.567,"y":3.006},
{"p":"c","h":"i","b":4,"x":-0.933,"y":4},{"p":"c","h":"i","b":4,"x":-0.794,"y":3.986},{"p":"c","h":"i","b":4,"x":-0.683,"y":3.965},{"p":"c","h":"i","b":4,"x":-0.6,"y":3.919},{"p":"c","h":"i","b":4,"x":-0.489,"y":3.864},{"p":"c","h":"i","b":4,"x":-0.378,"y":3.817},{"p":"c","h":"i","b":4,"x":-0.267,"y":3.762},{"p":"c","h":"i","b":4,"x":-0.183,"y":3.728},{"p":"c","h":"i","b":4,"x":-0.1,"y":3.71},{"p":"c","h":"i","b":4,"x":-0.044,"y":3.739},{"p":"c","h":"i","b":4,"x":0.011,"y":3.797},{"p":"c","h":"i","b":4,"x":0.094,"y":3.884},{"p":"c","h":"i","b":4,"x":0.206,"y":3.928},{"p":"c","h":"i","b":4,"x":0.317,"y":3.965},{"p":"c","h":"i","b":4,"x":0.4,"y":3.991},{"p":"c","h":"i","b":4,"x":0.511,"y":4},
{"p":"c","h":"o","b":4,"x":-0.906,"y":4.006},{"p":"c","h":"o","b":4,"x":-0.767,"y":4.043},{"p":"c","h":"o","b":4,"x":-0.656,"y":4.13},{"p":"c","h":"o","b":4,"x":-0.572,"y":4.203},{"p":"c","h":"o","b":4,"x":-0.489,"y":4.232},{"p":"c","h":"o","b":4,"x":-0.406,"y":4.275},{"p":"c","h":"o","b":4,"x":-0.336,"y":4.333},{"p":"c","h":"o","b":4,"x":-0.294,"y":4.391},{"p":"c","h":"o","b":4,"x":-0.253,"y":4.377},{"p":"c","h":"o","b":4,"x":-0.225,"y":4.29},{"p":"c","h":"o","b":4,"x":-0.169,"y":4.145},{"p":"c","h":"o","b":4,"x":-0.1,"y":4.072},{"p":"c","h":"o","b":4,"x":-0.017,"y":4.023},{"p":"c","h":"o","b":4,"x":0.039,"y":4.006},
{"p":"c","h":"i","b":5,"x":-0.656,"y":5},{"p":"c","h":"i","b":5,"x":-0.517,"y":4.977},{"p":"c","h":"i","b":5,"x":-0.461,"y":4.904},{"p":"c","h":"i","b":5,"x":-0.406,"y":4.788},{"p":"c","h":"i","b":5,"x":-0.35,"y":4.701},{"p":"c","h":"i","b":5,"x":-0.294,"y":4.664},{"p":"c","h":"i","b":5,"x":-0.239,"y":4.638},{"p":"c","h":"i","b":5,"x":-0.211,"y":4.629},{"p":"c","h":"i","b":5,"x":-0.169,"y":4.672},{"p":"c","h":"i","b":5,"x":-0.128,"y":4.759},{"p":"c","h":"i","b":5,"x":-0.044,"y":4.861},{"p":"c","h":"i","b":5,"x":0.067,"y":4.962},{"p":"c","h":"i","b":5,"x":0.15,"y":4.991},{"p":"c","h":"i","b":5,"x":0.539,"y":5},
{"p":"c","h":"o","b":5,"x":-0.544,"y":5.009},{"p":"c","h":"o","b":5,"x":-0.461,"y":5.064},{"p":"c","h":"o","b":5,"x":-0.406,"y":5.136},{"p":"c","h":"o","b":5,"x":-0.35,"y":5.223},{"p":"c","h":"o","b":5,"x":-0.294,"y":5.339},{"p":"c","h":"o","b":5,"x":-0.253,"y":5.406},{"p":"c","h":"o","b":5,"x":-0.197,"y":5.397},{"p":"c","h":"o","b":5,"x":-0.169,"y":5.339},{"p":"c","h":"o","b":5,"x":-0.142,"y":5.252},{"p":"c","h":"o","b":5,"x":-0.086,"y":5.165},{"p":"c","h":"o","b":5,"x":0.011,"y":5.078},{"p":"c","h":"o","b":5,"x":0.122,"y":5.02},{"p":"c","h":"o","b":5,"x":0.178,"y":5.006}
],
"q":[
{"p":"a","b":0,"k":"q","x":-0.356,"y":-0.39},{"p":"a","b":0,"k":"m","x":-0.197,"y":-0.278},{"p":"a","b":0,"k":"q","x":0.031,"y":-0.265},{"p":"a","b":0,"k":"q","x":-0.217,"y":0.282},{"p":"a","b":0,"k":"m","x":-0.022,"y":0.368},{"p":"a","b":0,"k":"q","x":0.144,"y":0.313},
{"p":"a","b":1,"k":"q","x":-0.211,"y":0.774},{"p":"a","b":1,"k":"m","x":-0.014,"y":0.7},{"p":"a","b":1,"k":"q","x":0.172,"y":0.73},{"p":"a","b":1,"k":"q","x":-0.308,"y":1.37},{"p":"a","b":1,"k":"m","x":-0.164,"y":1.385},{"p":"a","b":1,"k":"q","x":0.0,"y":1.25},
{"p":"a","b":2,"k":"q","x":-0.217,"y":1.791},{"p":"a","b":2,"k":"m","x":0.067,"y":1.75},{"p":"a","b":2,"k":"q","x":0.322,"y":1.763},{"p":"a","b":2,"k":"q","x":-0.017,"y":2.27},{"p":"a","b":2,"k":"m","x":0.167,"y":2.4},{"p":"a","b":2,"k":"q","x":0.333,"y":2.315},
{"p":"a","b":3,"k":"q","x":-0.328,"y":2.77},{"p":"a","b":3,"k":"m","x":-0.164,"y":2.615},{"p":"a","b":3,"k":"q","x":-0.014,"y":2.695},{"p":"a","b":3,"k":"q","x":-0.344,"y":3.25},{"p":"a","b":3,"k":"m","x":-0.189,"y":3.4},{"p":"a","b":3,"k":"q","x":-0.05,"y":3.29},
{"p":"a","b":4,"k":"q","x":-0.644,"y":3.696},{"p":"a","b":4,"k":"m","x":-0.417,"y":3.68},{"p":"a","b":4,"k":"q","x":-0.211,"y":3.69},{"p":"a","b":4,"k":"q","x":-0.819,"y":4.305},{"p":"a","b":4,"k":"m","x":-0.664,"y":4.39},{"p":"a","b":4,"k":"q","x":-0.5,"y":4.29},
{"p":"a","b":5,"k":"q","x":-0.844,"y":4.895},{"p":"a","b":5,"k":"m","x":-0.608,"y":4.63},{"p":"a","b":5,"k":"q","x":-0.494,"y":4.72},{"p":"a","b":5,"k":"q","x":-0.731,"y":5.255},{"p":"a","b":5,"k":"m","x":-0.581,"y":5.37},{"p":"a","b":5,"k":"q","x":-0.417,"y":5.285},
{"p":"b","b":0,"k":"q","x":-0.381,"y":-0.26},{"p":"b","b":0,"k":"m","x":-0.178,"y":-0.335},{"p":"b","b":0,"k":"q","x":0.069,"y":-0.25},{"p":"b","b":0,"k":"q","x":-0.231,"y":0.28},{"p":"b","b":0,"k":"m","x":-0.028,"y":0.395},{"p":"b","b":0,"k":"q","x":0.153,"y":0.31},
{"p":"b","b":1,"k":"q","x":-0.403,"y":0.73},{"p":"b","b":1,"k":"m","x":-0.156,"y":0.655},{"p":"b","b":1,"k":"q","x":0.047,"y":0.62},{"p":"b","b":1,"k":"q","x":-0.564,"y":1.32},{"p":"b","b":1,"k":"m","x":-0.333,"y":1.39},{"p":"b","b":1,"k":"q","x":-0.122,"y":1.36},
{"p":"b","b":2,"k":"q","x":-0.239,"y":1.805},{"p":"b","b":2,"k":"m","x":0.078,"y":1.77},{"p":"b","b":2,"k":"q","x":0.406,"y":1.755},{"p":"b","b":2,"k":"q","x":0.119,"y":2.31},{"p":"b","b":2,"k":"m","x":0.314,"y":2.4},{"p":"b","b":2,"k":"q","x":0.517,"y":2.36},
{"p":"b","b":3,"k":"q","x":-0.247,"y":2.78},{"p":"b","b":3,"k":"m","x":-0.056,"y":2.625},{"p":"b","b":3,"k":"q","x":0.078,"y":2.685},{"p":"b","b":3,"k":"q","x":-0.283,"y":3.28},{"p":"b","b":3,"k":"m","x":-0.097,"y":3.31},{"p":"b","b":3,"k":"q","x":0.083,"y":3.28},
{"p":"b","b":4,"k":"q","x":-0.475,"y":3.775},{"p":"b","b":4,"k":"m","x":-0.236,"y":3.615},{"p":"b","b":4,"k":"q","x":-0.053,"y":3.65},{"p":"b","b":4,"k":"q","x":-0.747,"y":4.2},{"p":"b","b":4,"k":"m","x":-0.456,"y":4.26},{"p":"b","b":4,"k":"q","x":-0.172,"y":4.225},
{"p":"b","b":5,"k":"q","x":-0.786,"y":4.835},{"p":"b","b":5,"k":"m","x":-0.494,"y":4.645},{"p":"b","b":5,"k":"q","x":-0.347,"y":4.68},{"p":"b","b":5,"k":"q","x":-0.667,"y":5.25},{"p":"b","b":5,"k":"m","x":-0.478,"y":5.4},{"p":"b","b":5,"k":"q","x":-0.311,"y":5.295},
{"p":"c","b":0,"k":"q","x":-0.078,"y":-0.365},{"p":"c","b":0,"k":"m","x":0.003,"y":-0.365},{"p":"c","b":0,"k":"q","x":0.111,"y":-0.25},{"p":"c","b":0,"k":"q","x":-0.139,"y":0.21},{"p":"c","b":0,"k":"m","x":-0.014,"y":0.285},{"p":"c","b":0,"k":"q","x":0.119,"y":0.19},
{"p":"c","b":1,"k":"q","x":-0.033,"y":0.67},{"p":"c","b":1,"k":"m","x":0.108,"y":0.63},{"p":"c","b":1,"k":"q","x":0.256,"y":0.78},{"p":"c","b":1,"k":"q","x":-0.164,"y":1.375},{"p":"c","b":1,"k":"m","x":-0.039,"y":1.385},{"p":"c","b":1,"k":"q","x":0.125,"y":1.265},
{"p":"c","b":2,"k":"q","x":-0.114,"y":1.72},{"p":"c","b":2,"k":"m","x":0.003,"y":1.605},{"p":"c","b":2,"k":"q","x":0.125,"y":1.71},{"p":"c","b":2,"k":"q","x":-0.15,"y":2.275},{"p":"c","b":2,"k":"m","x":-0.017,"y":2.365},{"p":"c","b":2,"k":"q","x":0.097,"y":2.31},
{"p":"c","b":3,"k":"q","x":-0.172,"y":2.79},{"p":"c","b":3,"k":"m","x":-0.072,"y":2.6},{"p":"c","b":3,"k":"q","x":0.017,"y":2.73},{"p":"c","b":3,"k":"q","x":-0.256,"y":3.225},{"p":"c","b":3,"k":"m","x":-0.131,"y":3.305},{"p":"c","b":3,"k":"q","x":-0.014,"y":3.22},
{"p":"c","b":4,"k":"q","x":-0.339,"y":3.8},{"p":"c","b":4,"k":"m","x":-0.169,"y":3.725},{"p":"c","b":4,"k":"q","x":-0.036,"y":3.745},{"p":"c","b":4,"k":"q","x":-0.486,"y":4.232},{"p":"c","b":4,"k":"m","x":-0.342,"y":4.33},{"p":"c","b":4,"k":"q","x":-0.242,"y":4.343},
{"p":"c","b":5,"k":"q","x":-0.319,"y":4.68},{"p":"c","b":5,"k":"m","x":-0.231,"y":4.635},{"p":"c","b":5,"k":"q","x":-0.136,"y":4.74},{"p":"c","b":5,"k":"q","x":-0.322,"y":5.28},{"p":"c","b":5,"k":"m","x":-0.242,"y":5.405},{"p":"c","b":5,"k":"q","x":-0.153,"y":5.3}
],
"t":[
{"b":0,"h":"i","t":"1644 (15%)"},{"b":0,"h":"o","t":"9150 (85%)"},{"b":1,"h":"i","t":"2294 (68%)"},{"b":1,"h":"o","t":"1060 (32%)"},{"b":2,"h":"i","t":"2142 (71%)"},{"b":2,"h":"o","t":"861 (29%)"},{"b":3,"h":"i","t":"2362 (59%)"},{"b":3,"h":"o","t":"1645 (41%)"},{"b":4,"h":"i","t":"2093 (64%)"},{"b":4,"h":"o","t":"1201 (36%)"},{"b":5,"h":"i","t":"1099 (63%)"},{"b":5,"h":"o","t":"644 (37%)"}
]},
"hconcat":[
{"width":312,"height":715,"resolve":{"axis":{"x":"independent"}},
"layer":[
{"data":{"values":[{}]},"mark":{"type":"rule","color":"#bfbfbf","strokeWidth":10},"encoding":{"y":{"datum":0.5,"type":"quantitative","scale":{"domain":[-0.6,5.6],"reverse":true,"nice":false,"zero":false},"axis":{"orient":"left","values":[0,1,2,3,4,5],"labelExpr":"['field','unperturbed','early RPS','active RPS','post RPS','anemic disc'][datum.value]","tickSize":-10,"labelPadding":20,"title":"HI-identified evolutionary stage","titleAngle":270,"titleX":-157,"titleY":402,"titleAlign":"center","titleBaseline":"middle"}}}},
{"data":{"values":[{}]},"mark":{"type":"rule","color":"#000","strokeWidth":1.2},"encoding":{"x":{"datum":0,"type":"quantitative","scale":{"domain":[-1.6,1],"nice":false,"zero":false},"axis":null}}},
{"data":{"name":"v"},"transform":[{"filter":"datum.p=='a'"}],"mark":{"type":"area","stroke":"#505050","strokeWidth":1.8,"strokeJoin":"round","opacity":1},
"encoding":{"x":{"field":"x","type":"quantitative","scale":{"domain":[-1.6,1],"nice":false,"zero":false},"axis":{"orient":"top","grid":true,"gridColor":"#999","gridDash":[2,2],"gridWidth":0.8,"values":[-1.5,-1.25,-1,-0.75,-0.5,-0.25,0.25,0.5,0.75],"labels":false,"ticks":false,"domain":false,"title":null}},
"y":{"field":"y","type":"quantitative","stack":null,"scale":{"domain":[-0.6,5.6],"reverse":true,"nice":false,"zero":false}},
"y2":{"field":"b"},
"color":{"field":"h","type":"nominal","scale":{"domain":["i","o"],"range":["#e99673","#70b9a0"]},"legend":{"orient":"none","legendX":-194,"legendY":-25,"title":null,"symbolType":"M-1,-0.7L3.4,-0.7L3.4,0.7L-1,0.7Z","symbolSize":400,"symbolStrokeColor":"#505050","symbolStrokeWidth":1.5,"symbolOpacity":1,"labelFontSize":19,"labelFont":"DejaVu Serif","labelColor":"#222","labelOffset":42,"rowPadding":9,"padding":9,"strokeColor":"#bbbbbb","fillColor":"#fff","labelExpr":"datum.label=='i'?'inner disc':'outer disc'"}},
"detail":{"field":"b","type":"nominal"}}},
{"data":{"name":"q"},"transform":[{"filter":"datum.p=='a'"}],"mark":{"type":"rule","color":"#505050","strokeWidth":2.5},
"encoding":{"x":{"field":"x","type":"quantitative","scale":{"domain":[-1.6,1],"nice":false,"zero":false},"axis":{"orient":"bottom","values":[-1,0,1],"tickSize":-10,"labelPadding":20,"title":"ΔΣꜱꜰʀ [dex]","titlePadding":14}},
"y":{"field":"y","type":"quantitative","scale":{"domain":[-0.6,5.6],"reverse":true,"nice":false,"zero":false}},"y2":{"field":"b"},
"strokeDash":{"field":"k","type":"nominal","scale":{"domain":["m","q"],"range":[[6,4],[3,3]]},"legend":null}}}
]},
{"width":312,"height":715,"resolve":{"axis":{"x":"independent"}},
"layer":[
{"data":{"values":[{}]},"mark":{"type":"rule","color":"#bfbfbf","strokeWidth":10},"encoding":{"y":{"datum":0.5,"type":"quantitative","scale":{"domain":[-0.6,5.6],"reverse":true,"nice":false,"zero":false},"axis":null}}},
{"data":{"values":[{}]},"mark":{"type":"rule","color":"#000","strokeWidth":1.2},"encoding":{"x":{"datum":0,"type":"quantitative","scale":{"domain":[-1.6,1],"nice":false,"zero":false},"axis":null}}},
{"data":{"name":"v"},"transform":[{"filter":"datum.p=='b'"}],"mark":{"type":"area","stroke":"#505050","strokeWidth":1.8,"strokeJoin":"round","opacity":1},
"encoding":{"x":{"field":"x","type":"quantitative","scale":{"domain":[-1.6,1],"nice":false,"zero":false},"axis":{"orient":"top","grid":true,"gridColor":"#999","gridDash":[2,2],"gridWidth":0.8,"values":[-1.5,-1.25,-1,-0.75,-0.5,-0.25,0.25,0.5,0.75],"labels":false,"ticks":false,"domain":false,"title":null}},
"y":{"field":"y","type":"quantitative","stack":null,"scale":{"domain":[-0.6,5.6],"reverse":true,"nice":false,"zero":false},"axis":null},
"y2":{"field":"b"},
"color":{"field":"h","type":"nominal","scale":{"domain":["i","o"],"range":["#e99673","#70b9a0"]},"legend":null},
"detail":{"field":"b","type":"nominal"}}},
{"data":{"name":"q"},"transform":[{"filter":"datum.p=='b'"}],"mark":{"type":"rule","color":"#505050","strokeWidth":2.5},
"encoding":{"x":{"field":"x","type":"quantitative","scale":{"domain":[-1.6,1],"nice":false,"zero":false},"axis":{"orient":"bottom","values":[-1,0,1],"tickSize":-10,"labelPadding":20,"title":"Δfₘₒₗ [dex]","titlePadding":14}},
"y":{"field":"y","type":"quantitative","scale":{"domain":[-0.6,5.6],"reverse":true,"nice":false,"zero":false},"axis":null},"y2":{"field":"b"},
"strokeDash":{"field":"k","type":"nominal","scale":{"domain":["m","q"],"range":[[6,4],[3,3]]},"legend":null}}}
]},
{"width":312,"height":715,"resolve":{"axis":{"x":"independent"}},
"layer":[
{"data":{"values":[{}]},"mark":{"type":"rule","color":"#bfbfbf","strokeWidth":10},"encoding":{"y":{"datum":0.5,"type":"quantitative","scale":{"domain":[-0.6,5.6],"reverse":true,"nice":false,"zero":false},"axis":{"orient":"right","values":[0,1,2,3,4,5],"labelExpr":"['HERACLES','0','I','II','III','IV'][datum.value]","tickSize":-10,"labelPadding":19,"labelFontSize":15,"title":"Y17 HI class","titleAngle":270,"titleX":89,"titleY":402,"titleAlign":"center","titleBaseline":"middle"}}}},
{"data":{"values":[{}]},"mark":{"type":"rule","color":"#000","strokeWidth":1.2},"encoding":{"x":{"datum":0,"type":"quantitative","scale":{"domain":[-1.6,1],"nice":false,"zero":false},"axis":null}}},
{"data":{"name":"v"},"transform":[{"filter":"datum.p=='c'"}],"mark":{"type":"area","stroke":"#505050","strokeWidth":1.8,"strokeJoin":"round","opacity":1},
"encoding":{"x":{"field":"x","type":"quantitative","scale":{"domain":[-1.6,1],"nice":false,"zero":false},"axis":{"orient":"top","grid":true,"gridColor":"#999","gridDash":[2,2],"gridWidth":0.8,"values":[-1.5,-1.25,-1,-0.75,-0.5,-0.25,0.25,0.5,0.75],"labels":false,"ticks":false,"domain":false,"title":null}},
"y":{"field":"y","type":"quantitative","stack":null,"scale":{"domain":[-0.6,5.6],"reverse":true,"nice":false,"zero":false}},
"y2":{"field":"b"},
"color":{"field":"h","type":"nominal","scale":{"domain":["i","o"],"range":["#e99673","#70b9a0"]},"legend":null},
"detail":{"field":"b","type":"nominal"}}},
{"data":{"name":"q"},"transform":[{"filter":"datum.p=='c'"}],"mark":{"type":"rule","color":"#505050","strokeWidth":2.5},
"encoding":{"x":{"field":"x","type":"quantitative","scale":{"domain":[-1.6,1],"nice":false,"zero":false},"axis":{"orient":"bottom","values":[-1,0,1],"tickSize":-10,"labelPadding":20,"title":"Δ𝑆𝐹𝐸 [dex]","titlePadding":14}},
"y":{"field":"y","type":"quantitative","scale":{"domain":[-0.6,5.6],"reverse":true,"nice":false,"zero":false}},"y2":{"field":"b"},
"strokeDash":{"field":"k","type":"nominal","scale":{"domain":["m","q"],"range":[[6,4],[3,3]]},"legend":null}}},
{"data":{"name":"t"},"transform":[{"filter":"datum.h=='i'"}],"mark":{"type":"text","align":"left","baseline":"middle","dy":-14,"fontSize":16,"font":"DejaVu Serif","color":"#fc8d62"},
"encoding":{"x":{"datum":-1.49,"type":"quantitative","scale":{"domain":[-1.6,1],"nice":false,"zero":false},"axis":null},"y":{"field":"b","type":"quantitative","scale":{"domain":[-0.6,5.6],"reverse":true,"nice":false,"zero":false}},"text":{"field":"t"}}},
{"data":{"name":"t"},"transform":[{"filter":"datum.h=='o'"}],"mark":{"type":"text","align":"left","baseline":"middle","dy":12,"fontSize":16,"font":"DejaVu Serif","color":"#66c2a5"},
"encoding":{"x":{"datum":-1.49,"type":"quantitative","scale":{"domain":[-1.6,1],"nice":false,"zero":false},"axis":null},"y":{"field":"b","type":"quantitative","scale":{"domain":[-0.6,5.6],"reverse":true,"nice":false,"zero":false}},"text":{"field":"t"}}}
]}
]
}
